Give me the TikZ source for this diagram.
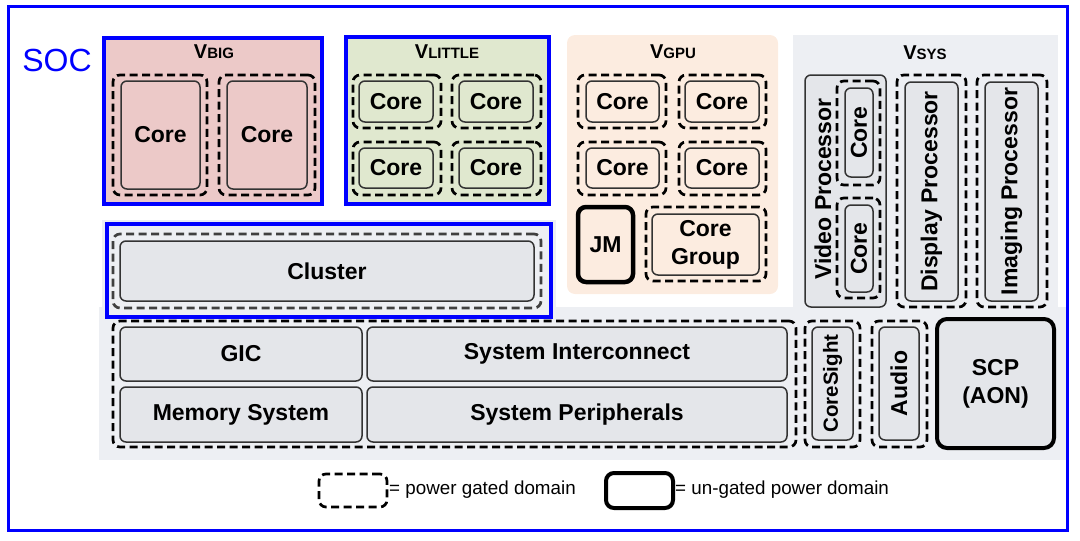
\documentclass[tikz,border=0pt]{standalone}
\usepackage{fontspec}
\setmainfont{Liberation Sans}
\definecolor{socblue}{HTML}{0000FF}
\definecolor{bigpink}{HTML}{ECC9C8}
\definecolor{litgreen}{HTML}{E0E8CF}
\definecolor{gpupeach}{HTML}{FCECE0}
\definecolor{sysgray}{HTML}{EDEFF3}
\definecolor{ingray}{HTML}{E4E6EA}
\definecolor{darkline}{HTML}{333333}
\newcommand\mybox[7]{%
  \pgfmathsetmacro\mybw{#5-#3}\pgfmathsetmacro\mybh{#6-#4}%
  \node[#2, minimum width=\mybw pt, minimum height=\mybh pt, inner sep=0pt] (#1) at ({(#3+#5)/2},{(#4+#6)/2}) {#7};}
\newcommand\Vlabel[1]{{\fontsize{20}{21}\selectfont V}{\fontsize{15}{16}\selectfont #1}}
\begin{document}
\begin{tikzpicture}[x=1pt,y=-1pt,
  every node/.style={font=\bfseries\fontsize{23}{28}\selectfont, text=black, align=center},
  pg/.style={draw=black, line width=2.7pt, dash pattern=on 8pt off 4.5pt, rounded corners=7pt},
  inbox/.style={draw=darkline, line width=1.5pt, rounded corners=6pt},
  ug/.style={draw=black, line width=4pt, rounded corners=8pt},
  dom/.style={draw=socblue, line width=3.2pt},
  legtext/.style={font=\fontsize{18.8}{20}\selectfont, anchor=west, inner sep=0pt},
]
\useasboundingbox (0,0) rectangle (1080,541);
% backgrounds
\mybox{bgclu}{fill=sysgray}{102}{220}{556}{312}{}
\mybox{bgbot}{fill=sysgray}{99}{307}{1066}{460}{}
\mybox{bgsys}{fill=sysgray}{793}{35}{1058}{310}{}
% SOC frame
\mybox{soc}{draw=socblue, line width=3pt}{8}{6}{1067}{530}{}
\node[font=\fontsize{32}{34}\selectfont, text=socblue] (soclbl) at (57,60) {SOC};
% VBIG
\mybox{big}{fill=bigpink, dom}{104}{38}{322}{204}{}
\node (bigT) at (214,52) {\Vlabel{BIG}};
\mybox{bigd1}{pg}{113}{75}{207}{195}{}
\mybox{bigc1}{inbox}{121}{81}{200}{189}{Core}
\mybox{bigd2}{pg}{219}{75}{315}{195}{}
\mybox{bigc2}{inbox}{227}{81}{307}{189}{Core}
% VLITTLE
\mybox{lit}{fill=litgreen, dom}{346}{37}{549}{204}{}
\node (litT) at (447,52) {\Vlabel{LITTLE}};
\mybox{litd1}{pg}{353}{75}{441}{128}{}
\mybox{litd2}{pg}{452}{75}{541}{128}{}
\mybox{litd3}{pg}{353}{142}{441}{195}{}
\mybox{litd4}{pg}{452}{142}{541}{195}{}
\mybox{litc1}{inbox}{359}{81}{433}{122}{Core}
\mybox{litc2}{inbox}{459}{81}{533}{122}{Core}
\mybox{litc3}{inbox}{359}{148}{433}{188}{Core}
\mybox{litc4}{inbox}{459}{148}{533}{188}{Core}
% VGPU
\mybox{gpu}{fill=gpupeach, rounded corners=8pt}{567}{35}{778}{294}{}
\node (gpuT) at (673,52) {\Vlabel{GPU}};
\mybox{gpud1}{pg}{578}{75}{666}{128}{}
\mybox{gpud2}{pg}{679}{75}{766}{128}{}
\mybox{gpud3}{pg}{578}{142}{666}{195}{}
\mybox{gpud4}{pg}{679}{142}{766}{195}{}
\mybox{gpuc1}{inbox}{586}{81}{659}{122}{Core}
\mybox{gpuc2}{inbox}{685}{81}{759}{122}{Core}
\mybox{gpuc3}{inbox}{586}{148}{659}{188}{Core}
\mybox{gpuc4}{inbox}{685}{148}{759}{188}{Core}
\mybox{jm}{ug, line width=4.5pt}{578}{207}{633}{282}{JM}
\mybox{cgd}{pg}{646}{207}{766}{281}{}
\mybox{cg}{inbox}{652}{214}{759}{275}{Core\\Group}
% Cluster
\mybox{clu}{fill=sysgray, dom}{107}{224}{551}{317}{}
\mybox{clud}{pg, draw=black!75}{113}{234}{541}{308}{}
\mybox{cluc}{inbox, fill=ingray}{120}{241}{534}{301}{Cluster}
% VSYS
\node (sysT) at (925,53) {\Vlabel{SYS}};
\mybox{vid}{inbox, fill=ingray}{805}{75}{886}{307}{}
\node[rotate=90] (vidT) at (823,189) {Video Processor};
\mybox{vidd1}{pg}{837}{81}{880}{185}{}
\mybox{vidc1}{inbox, fill=ingray}{845}{88}{873}{177}{}
\node[rotate=90] (vidc1T) at (vidc1.center) {Core};
\mybox{vidd2}{pg}{837}{198}{880}{298}{}
\mybox{vidc2}{inbox, fill=ingray}{845}{205}{873}{292}{}
\node[rotate=90] (vidc2T) at (vidc2.center) {Core};
\mybox{dspd}{pg}{897}{75}{966}{307}{}
\mybox{dsp}{inbox, fill=ingray}{905}{82}{958}{301}{}
\node[rotate=90] (dspT) at (dsp.center) {Display Processor};
\mybox{imgd}{pg}{977}{75}{1047}{307}{}
\mybox{img}{inbox, fill=ingray}{985}{82}{1038}{301}{}
\node[rotate=90] (imgT) at (img.center) {Imaging Processor};
% bottom
\mybox{botd}{pg}{113}{321}{796}{447}{}
\mybox{gic}{inbox, fill=ingray}{120}{327}{362}{381}{GIC}
\mybox{si}{inbox, fill=ingray}{367}{327}{787}{381}{System Interconnect}
\mybox{ms}{inbox, fill=ingray}{120}{387}{362}{442}{Memory System}
\mybox{sp}{inbox, fill=ingray}{367}{387}{787}{442}{System Peripherals}
\mybox{csd}{pg}{805}{321}{860}{447}{}
\mybox{cs}{inbox, fill=ingray}{812}{327}{853}{440}{}
\node[rotate=90, font=\bfseries\fontsize{20.5}{24}\selectfont] (csT) at (cs.center) {CoreSight};
\mybox{aud}{pg}{872}{321}{927}{447}{}
\mybox{au}{inbox, fill=ingray}{879}{327}{919}{440}{}
\node[rotate=90] (auT) at (au.center) {Audio};
\mybox{scp}{ug, fill=ingray, rounded corners=10pt}{937}{319}{1054}{448}{SCP\\(AON)}
% legend
\mybox{lg1}{pg}{319}{474}{387}{507}{}
\node[legtext] (lg1T) at (389,490) {= power gated domain};
\mybox{lg2}{ug}{606}{473}{673}{508}{}
\node[legtext] (lg2T) at (675,490) {= un-gated power domain};
\end{tikzpicture}
\end{document}
